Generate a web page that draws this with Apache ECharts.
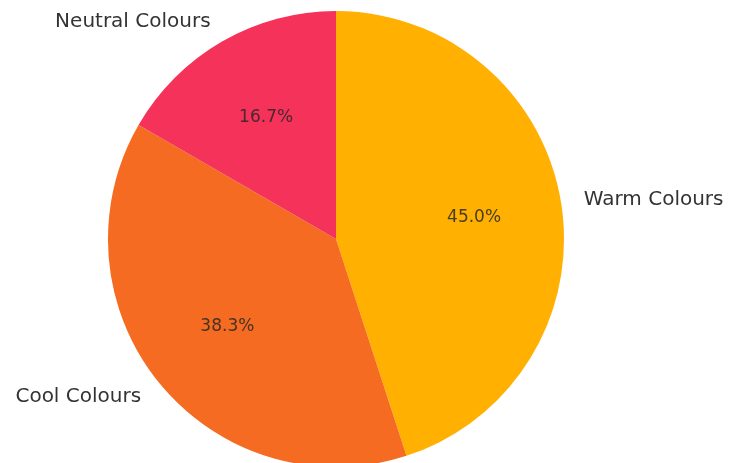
<!DOCTYPE html>
<html>
<head>
<meta charset="utf-8">
<script src="https://cdn.jsdelivr.net/npm/echarts@6/dist/echarts.min.js"></script>
<style>
    html, body { margin: 0; padding: 0; background: #fff; }
    #chart { width: 730px; height: 463px; }
</style>
</head>
<body>
<div id="chart"></div>
<script>
const categories = ["Warm Colours", "Cool Colours", "Neutral Colours"];
const counts = [27, 23, 10];
const colours = ["#FFB000", "#F46B21", "#F5325A"];

const total = counts.reduce((a, b) => a + b, 0);
const slices = categories.map((name, i) => ({
    name: name,
    value: counts[i],
    itemStyle: { color: colours[i] },
}));

const R = 228;
const center = [336, 239];

const chart = echarts.init(document.getElementById("chart"));
chart.setOption({
    animation: false,
    series: [
        {
            type: "pie",
            center: center,
            radius: [0, R],
            startAngle: 90,
            clockwise: true,
            avoidLabelOverlap: false,
            silent: true,
            data: slices,
            label: {
                show: true,
                position: "outside",
                distanceToLabelLine: 0,
                fontFamily: "DejaVu Sans",
                fontSize: 20,
                color: "#333",
                formatter: "{b}",
            },
            labelLine: { show: false, length: R * 0.1, length2: 0 },
        },
        {
            // transparent ring so the inside labels sit at 0.6 R
            type: "pie",
            center: center,
            radius: [R * 0.2, R],
            startAngle: 90,
            clockwise: true,
            silent: true,
            data: slices.map((d) => ({ name: d.name, value: d.value, itemStyle: { color: "rgba(0,0,0,0)" } })),
            label: {
                show: true,
                position: "inside",
                fontFamily: "DejaVu Sans",
                fontSize: 17,
                color: "rgba(40,40,40,0.85)",
                formatter: (p) => (p.value / total * 100).toFixed(1) + "%",
            },
            labelLine: { show: false },
        },
    ],
});
</script>
</body>
</html>
